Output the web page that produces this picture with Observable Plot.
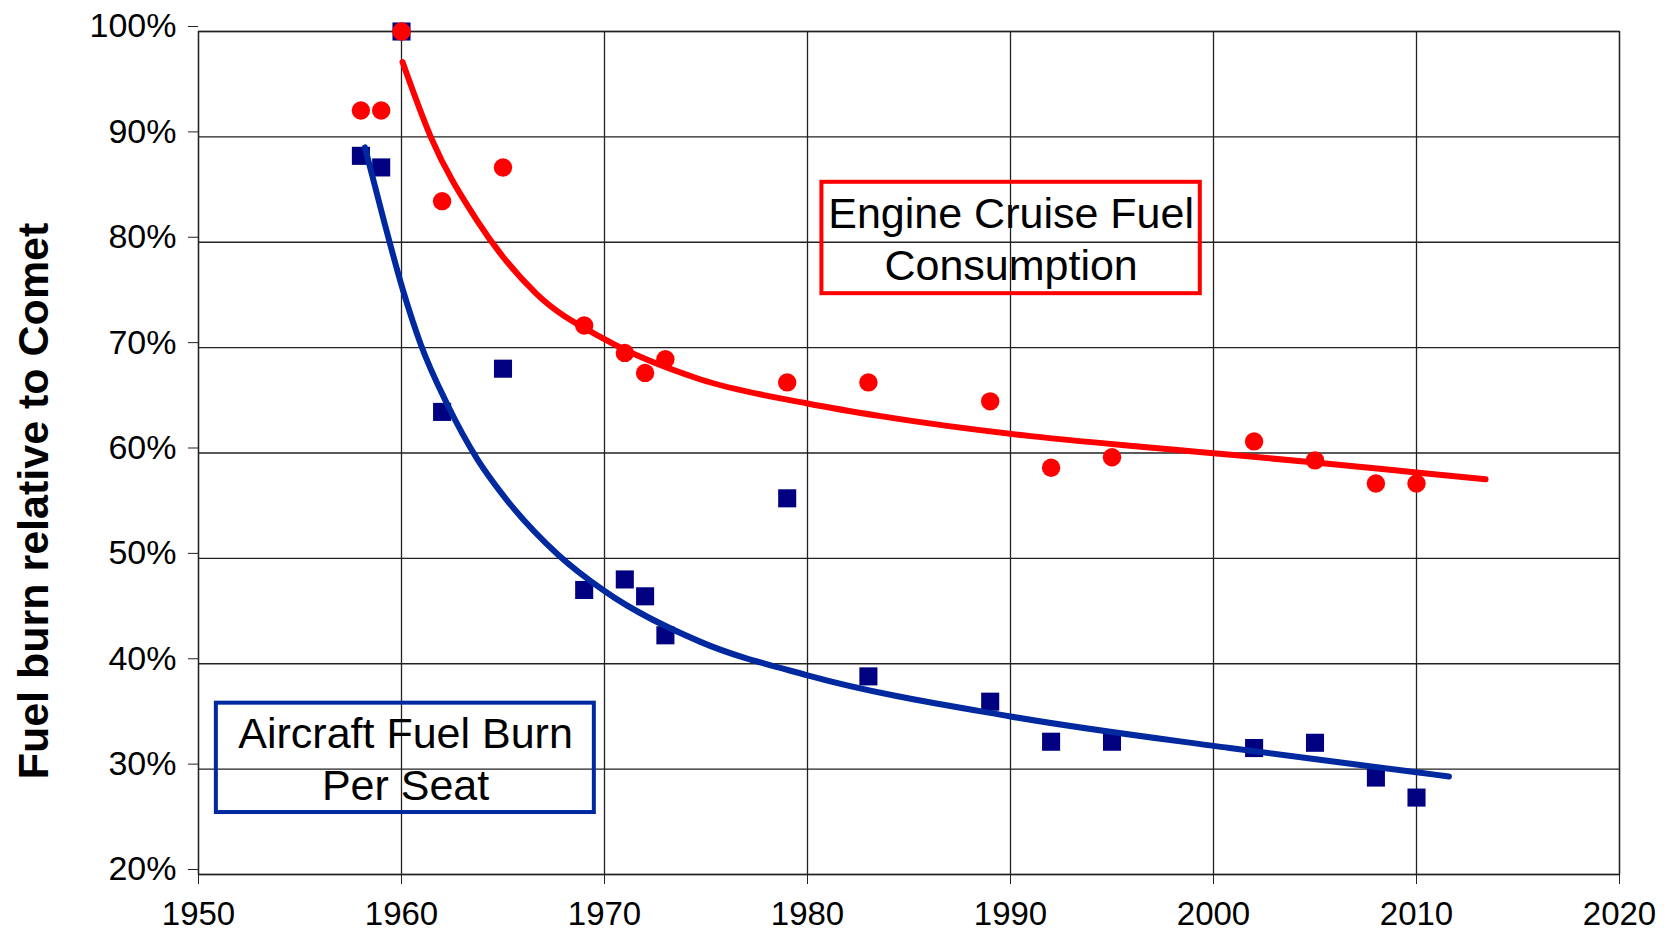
<!DOCTYPE html>
<html><head><meta charset="utf-8">
<script src="https://cdn.jsdelivr.net/npm/d3@7"></script>
<script src="https://cdn.jsdelivr.net/npm/@observablehq/plot@0.6"></script>
<style>body{margin:0;background:#fff}</style>
</head><body><div id="chart"></div>
<script>
// Observed data (percent of Comet fuel burn)
const years = [1958, 1959, 1960, 1962, 1965, 1969, 1971, 1972, 1973, 1979, 1983, 1989, 1992, 1995, 2002, 2005, 2008, 2010];
const engineFuel = [92.5, 92.5, 100, 83.9, 87.1, 72.1, 69.5, 67.6, 68.9, 66.7, 66.7, 64.9, 58.6, 59.6, 61.1, 59.3, 57.1, 57.1];
const aircraftFuel = [88.2, 87.1, 100, 63.9, 68.0, 47.0, 48.0, 46.4, 42.7, 55.7, 38.8, 36.4, 32.6, 32.6, 32.0, 32.5, 29.2, 27.3];

// Trend lines
const engineTrendYears = [1960.05, 1961.44, 1963.74, 1966.65, 1970.0, 1974.7, 1980.0, 1983.6, 1991.0, 1997.0, 2001.0, 2005.0, 2010.0, 2013.4];
const engineTrendValues = [97.1, 90.0, 82.0, 75.1, 70.8, 67.0, 64.7, 63.5, 61.6, 60.5, 59.8, 59.1, 58.15, 57.5];
const aircraftTrendYears = [1958.2, 1959.14, 1960.05, 1960.95, 1962.26, 1963.74, 1965.0, 1967.74, 1970.0, 1974.7, 1980.0, 1990.0, 2000.8, 2010.0, 2011.6];
const aircraftTrendValues = [89.0, 82.0, 75.6, 70.3, 64.6, 59.4, 56.0, 50.3, 46.9, 42.1, 38.9, 35.0, 32.0, 29.7, 29.3];

const xTicks = [1950, 1960, 1970, 1980, 1990, 2000, 2010, 2020];
const yTicks = [20, 30, 40, 50, 60, 70, 80, 90, 100];

// Annotation boxes (data coordinates)
const boxNames = ["engine", "aircraft"];
const boxX1 = [1980.71, 1950.88];
const boxX2 = [1999.35, 1969.50];
const boxY1 = [75.12, 25.88];
const boxY2 = [85.69, 36.26];
const boxColors = ["#ff0000", "#0029a0"];
const labelLines = ["Engine Cruise Fuel", "Consumption", "Aircraft Fuel Burn", "Per Seat"];
const labelX = [1990.03, 1990.03, 1960.2, 1960.2];
const labelY = [82.63, 77.76, 33.29, 28.33];
const yTitle = "Fuel burn relative to Comet";

const engine = years.map((year, i) => ({year, value: engineFuel[i]}));
const aircraft = years.map((year, i) => ({year, value: aircraftFuel[i]}));
const engineTrend = engineTrendYears.map((year, i) => ({year, value: engineTrendValues[i]}));
const aircraftTrend = aircraftTrendYears.map((year, i) => ({year, value: aircraftTrendValues[i]}));
const boxes = boxNames.map((name, i) => ({name, x1: boxX1[i], x2: boxX2[i], y1: boxY1[i], y2: boxY2[i], color: boxColors[i]}));
const labels = labelLines.map((text, i) => ({text, x: labelX[i], y: labelY[i]}));

const chart = Plot.plot({
  width: 1677, height: 932,
  marginLeft: 198, marginRight: 58, marginTop: 31, marginBottom: 58,
  style: {fontFamily: "'Liberation Sans', Arial, sans-serif", background: "#fff", color: "#000"},
  x: {domain: [1950, 2020]},
  y: {domain: [20, 100]},
  marks: [
    Plot.gridX(xTicks, {stroke: "#222", strokeOpacity: 1, strokeWidth: 1.3}),
    Plot.gridY(yTicks, {stroke: "#222", strokeOpacity: 1, strokeWidth: 1.3}),
    Plot.frame({stroke: "#222", strokeWidth: 1.3}),
    Plot.axisX(xTicks, {tickSize: 10, tickPadding: 17, fontSize: 33, tickFormat: d => String(d), label: null, stroke: "#222"}),
    Plot.axisY(yTicks, {tickSize: 10, tickPadding: 12, fontSize: 34, dy: -5, tickFormat: d => d + "%", label: null, stroke: "#222"}),
    Plot.text([yTitle], {text: d => d, frameAnchor: "left", rotate: -90, dx: -164, dy: 48, fontSize: 43, fontWeight: "bold", textAnchor: "middle", fill: "#000"}),
    Plot.rect(boxes, {x1: "x1", x2: "x2", y1: "y1", y2: "y2", fill: "white", fillOpacity: 0, stroke: "color", strokeWidth: 4}),
    Plot.text(labels, {x: "x", y: "y", text: "text", fontSize: 43, textAnchor: "middle", lineAnchor: "middle", fill: "#000"}),
    Plot.dot(aircraft, {x: "year", y: "value", symbol: "square", r: 10.2, fill: "#000080", stroke: "none"}),
    Plot.dot(engine, {x: "year", y: "value", symbol: "circle", r: 9.2, fill: "#ff0000", stroke: "none"}),
    Plot.line(aircraftTrend, {x: "year", y: "value", curve: "monotone-x", stroke: "#0029a0", strokeWidth: 6}),
    Plot.line(engineTrend, {x: "year", y: "value", curve: "monotone-x", stroke: "#ff0000", strokeWidth: 6})
  ]
});
document.getElementById("chart").appendChild(chart);
</script>
</body></html>
